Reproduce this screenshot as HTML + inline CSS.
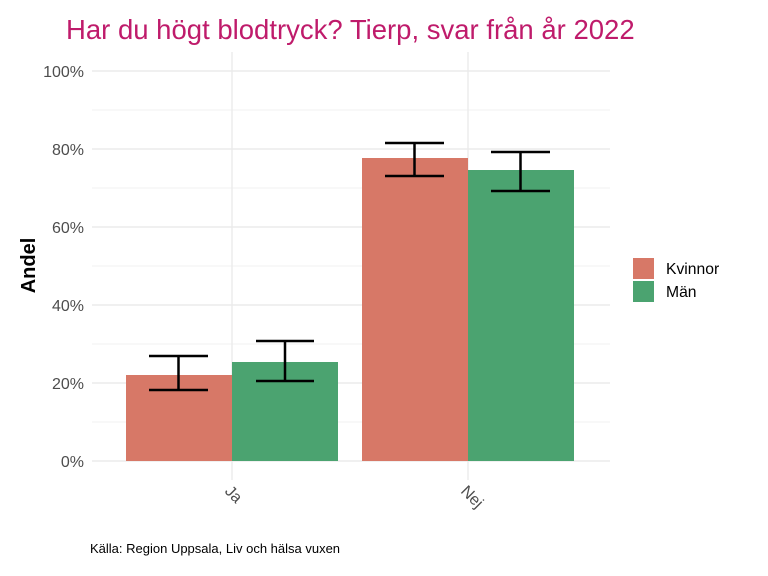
<!DOCTYPE html>
<html><head><meta charset="utf-8"><style>
body{margin:0;background:#fff}
svg{display:block;font-family:"Liberation Sans",sans-serif}
</style></head><body>
<svg width="768" height="576" xmlns="http://www.w3.org/2000/svg">
<rect width="768" height="576" fill="#fff"/>
<g stroke="#f0f0f0" stroke-width="1">
<line x1="92" x2="610" y1="422" y2="422"/><line x1="92" x2="610" y1="344" y2="344"/>
<line x1="92" x2="610" y1="266" y2="266"/><line x1="92" x2="610" y1="188" y2="188"/>
<line x1="92" x2="610" y1="110" y2="110"/>
</g>
<g stroke="#ebebeb" stroke-width="1.4">
<line x1="92" x2="610" y1="461" y2="461"/><line x1="92" x2="610" y1="383" y2="383"/>
<line x1="92" x2="610" y1="305" y2="305"/><line x1="92" x2="610" y1="227" y2="227"/>
<line x1="92" x2="610" y1="149" y2="149"/><line x1="92" x2="610" y1="71" y2="71"/>
<line x1="232" x2="232" y1="52" y2="480"/><line x1="468" x2="468" y1="52" y2="480"/>
</g>
<rect x="126" y="375" width="106" height="86" fill="#d77867"/>
<rect x="232" y="362" width="106" height="99" fill="#4ba370"/>
<rect x="362" y="158" width="106" height="303" fill="#d77867"/>
<rect x="468" y="170" width="106" height="291" fill="#4ba370"/>
<g stroke="#000" stroke-width="2.5" fill="none">
<path d="M149 356H208M149 390H208M178.5 356V390"/>
<path d="M256 341H314M256 381H314M285 341V381"/>
<path d="M385 143H444M385 176H444M414.5 143V176"/>
<path d="M491 152H550M491 191H550M520.5 152V191"/>
</g>
<g font-size="16" fill="#4d4d4d" text-anchor="end">
<text x="84" y="467">0%</text><text x="84" y="389">20%</text><text x="84" y="311">40%</text>
<text x="84" y="233">60%</text><text x="84" y="155">80%</text><text x="84" y="77">100%</text>
</g>
<g font-size="16" fill="#4d4d4d">
<text transform="translate(224,492) rotate(45)">Ja</text>
<text transform="translate(460,492) rotate(45)">Nej</text>
</g>
<text transform="translate(35,265.5) rotate(-90)" font-size="20" font-weight="bold" text-anchor="middle">Andel</text>
<text x="66" y="39" font-size="27.5" fill="#bf1b6b">Har du högt blodtryck? Tierp, svar från år 2022</text>
<rect x="633" y="258" width="21" height="21" fill="#d77867"/>
<rect x="633" y="281" width="21" height="21" fill="#4ba370"/>
<text x="666" y="274" font-size="15.7">Kvinnor</text>
<text x="666" y="297" font-size="15.7">Män</text>
<text x="90" y="553" font-size="13">Källa: Region Uppsala, Liv och hälsa vuxen</text>
</svg>
</body></html>
